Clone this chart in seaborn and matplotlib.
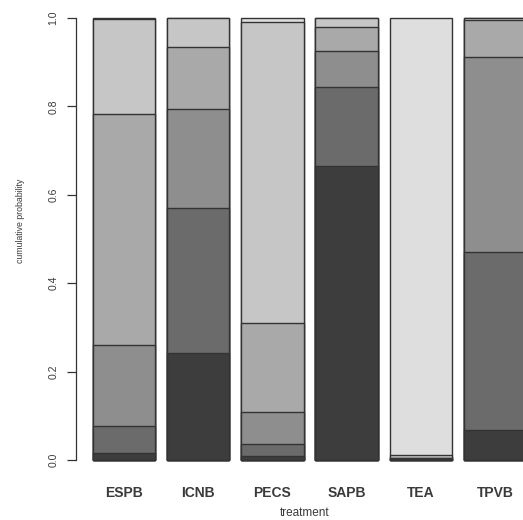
import matplotlib
matplotlib.use("Agg")
import matplotlib.pyplot as plt
import seaborn as sns
import pandas as pd

treatments = ["ESPB", "ICNB", "PECS", "SAPB", "TEA", "TPVB"]
# cumulative probability at upper edge of each level (level 1 = darkest)
cum_level1 = [0.016, 0.242, 0.008, 0.665, 0.002, 0.068]
cum_level2 = [0.077, 0.570, 0.037, 0.845, 0.003, 0.470]
cum_level3 = [0.260, 0.793, 0.109, 0.925, 0.004, 0.912]
cum_level4 = [0.782, 0.934, 0.310, 0.979, 0.005, 0.995]
cum_level5 = [0.998, 0.999, 0.991, 0.999, 0.012, 0.999]
cum_level6 = [1.0, 1.0, 1.0, 1.0, 1.0, 1.0]
level_colors = ["#3d3d3d", "#6b6b6b", "#8e8e8e", "#a9a9a9", "#c6c6c6", "#dedede"]
yticks = [0.0, 0.2, 0.4, 0.6, 0.8, 1.0]

sns.set_theme(style="white")
plt.rcParams["font.family"] = ["Liberation Sans", "DejaVu Sans"]

fig = plt.figure(figsize=(5.23, 5.2), dpi=100)
W, H = 523, 520
y0_px, y1_px = 460, 18
ppu = (y0_px - y1_px)
ylo, yhi = -0.03, 1.03
bot_px = y0_px - ylo * ppu
top_px = y0_px - yhi * ppu
ax = fig.add_axes([76 / W, (H - bot_px) / H, 1 - 76 / W, (bot_px - top_px) / H])

levels = [cum_level6, cum_level5, cum_level4, cum_level3, cum_level2, cum_level1]
colors = level_colors[::-1]
for vals, col in zip(levels, colors):
    df = pd.DataFrame({"treatment": treatments, "cum": vals})
    sns.barplot(data=df, x="treatment", y="cum", order=treatments, color=col,
                saturation=1, width=0.84, edgecolor="#333333", linewidth=1.0,
                ax=ax, errorbar=None)

# x range: bar centre 0 at px 124, spacing 74.2 px
xl = (76 - 124) / 74.2
xr = (523 - 124) / 74.2
ax.set_xlim(xl, xr)
ax.set_ylim(ylo, yhi)

for s in ["top", "right", "bottom"]:
    ax.spines[s].set_visible(False)
ax.spines["left"].set_bounds(0, 1)
ax.spines["left"].set_color("#333333")
ax.spines["left"].set_linewidth(0.9)

ax.set_yticks(yticks)
ax.set_yticklabels([f"{t:.1f}" for t in yticks], rotation=90, va="center",
                   fontsize=7.5, color="#3a3a3a")
ax.tick_params(axis="y", length=6.5, width=0.9, color="#333333", pad=6, left=True)
ax.tick_params(axis="x", length=0, pad=9)
for lab in ax.get_xticklabels():
    lab.set_fontweight("bold")
    lab.set_fontsize(10)
    lab.set_color("#3a3a3a")

ax.set_xlabel("treatment", fontsize=8.5, color="#3a3a3a")
ax.xaxis.label.set_va("center")
ax.xaxis.set_label_coords((305 - 76) / 447, (bot_px - 513) / (bot_px - top_px))
ax.set_ylabel("cumulative probability", fontsize=6.3, color="#3a3a3a")
ax.yaxis.label.set_va("center")
ax.yaxis.set_label_coords((20 - 76) / 447, (bot_px - 221) / (bot_px - top_px))
ax.grid(False)

fig.savefig("out.png", dpi=100, facecolor="white")
